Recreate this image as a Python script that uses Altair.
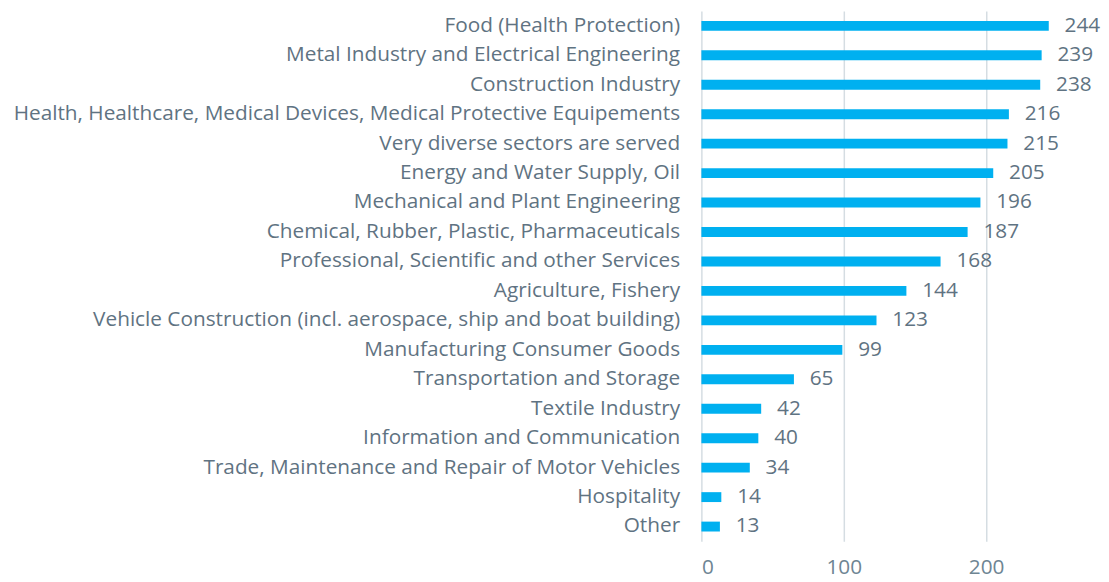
import altair as alt
import pandas as pd

categories = [
    "Food (Health Protection)",
    "Metal Industry and Electrical Engineering",
    "Construction Industry ",
    "Health, Healthcare, Medical Devices, Medical Protective Equipements",
    "Very diverse sectors are served ",
    "Energy and Water Supply, Oil",
    "Mechanical and Plant Engineering",
    "Chemical, Rubber, Plastic, Pharmaceuticals ",
    "Professional, Scientific and other Services",
    "Agriculture, Fishery ",
    "Vehicle Construction (incl. aerospace, ship and boat building) ",
    "Manufacturing Consumer Goods",
    "Transportation and Storage",
    "Textile Industry",
    "Information and Communication",
    "Trade, Maintenance and Repair of Motor Vehicles",
    "Hospitality",
    "Other",
]
values = [244, 239, 238, 216, 215, 205, 196, 187, 168, 144, 123, 99, 65, 42, 40, 34, 14, 13]
x_ticks = [0, 100, 200]

df = pd.DataFrame({"category": categories, "value": values})

FONT = "Open Sans"
TEXT_COLOR = "#5f7382"
FS = 21

y = alt.Y("category:N", sort=categories, title=None,
          axis=alt.Axis(labelFontSize=FS, labelColor=TEXT_COLOR, labelFont=FONT,
                        labelPadding=22, ticks=False, domain=False, labelLimit=900))
x = alt.X("value:Q", title=None, scale=alt.Scale(domain=[0, 280], nice=False),
          axis=alt.Axis(values=x_ticks, grid=True, gridColor="#d5dde2", gridWidth=1.5,
                        ticks=False, domain=False, labelFontSize=FS, labelColor="#6e8593",
                        labelFont=FONT, labelPadding=16))

bars = alt.Chart(df).mark_bar(color="#00b0f0", size=10).encode(x=x, y=y)
labels = alt.Chart(df).mark_text(align="left", dx=16, fontSize=FS, font=FONT,
                                 color=TEXT_COLOR, baseline="middle").encode(
    x=x, y=y, text="value:Q")

chart = (bars + labels).properties(
    width=403, height=536,
    padding={"left": 5, "top": 0, "right": 0, "bottom": 0},
).configure_view(stroke="transparent", strokeWidth=0)

chart.save("out.html", embed_options={"renderer": "svg", "actions": False})
